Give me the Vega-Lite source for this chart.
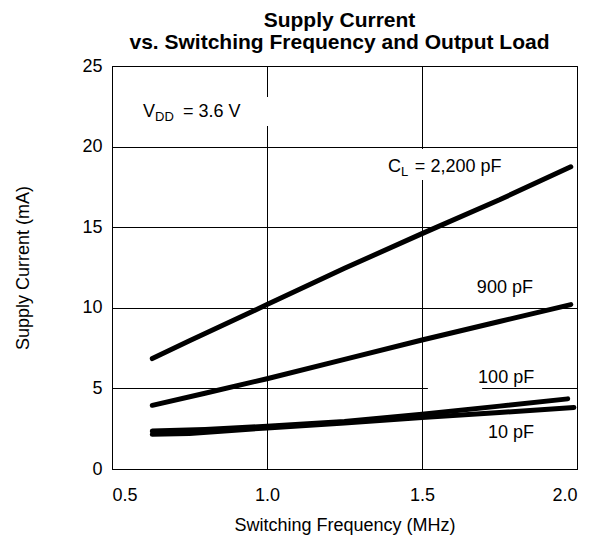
{
  "$schema": "https://vega.github.io/schema/vega-lite/v6.json",
  "autosize": {"type": "none"},
  "width": 465,
  "height": 403,
  "padding": {"left": 112, "top": 66, "right": 22, "bottom": 85},
  "config": {
    "font": "Liberation Sans",
    "view": {"stroke": "#000000", "strokeWidth": 1},
    "axis": {
      "labelFont": "Liberation Sans",
      "titleFont": "Liberation Sans",
      "labelFontSize": 18,
      "titleFontSize": 18,
      "titleFontWeight": "normal",
      "labelColor": "#000000",
      "titleColor": "#000000",
      "domainColor": "#000000",
      "gridColor": "#000000",
      "gridOpacity": 1,
      "gridWidth": 1,
      "ticks": false,
      "tickSize": 0
    }
  },
  "title": {
    "text": ["Supply Current", "vs. Switching Frequency and Output Load"],
    "font": "Liberation Sans",
    "fontSize": 21,
    "fontWeight": "bold",
    "lineHeight": 22,
    "anchor": "middle",
    "offset": 4,
    "dx": -5,
    "color": "#000000"
  },
  "layer": [
    {
      "data": {"values": [
        {"f": 0.57, "f2": 1.01, "I": 23.08, "I2": 21.28},
        {"f": 1.365, "f2": 1.784, "I": 19.85, "I2": 17.93},
        {"f": 1.519, "f2": 1.694, "I": 5.83, "I2": 4.28}
      ]},
      "mark": {"type": "rect", "fill": "#ffffff"},
      "encoding": {
        "x": {"field": "f", "type": "quantitative", "scale": {"domain": [0.5, 2.0], "nice": false, "zero": false},
              "axis": {"values": [0.5, 1.0, 1.5, 2.0], "format": ".1f", "title": "Switching Frequency (MHz)", "labelPadding": 17, "titlePadding": 12, "grid": true}},
        "x2": {"field": "f2"},
        "y": {"field": "I", "type": "quantitative", "scale": {"domain": [0, 25], "nice": false},
              "axis": {"values": [0, 5, 10, 15, 20, 25], "title": "Supply Current (mA)", "labelPadding": 10, "titlePadding": 49, "grid": true}},
        "y2": {"field": "I2"}
      }
    },
    {
      "data": {"values": [
        {"series": "2200 pF", "f": 0.63, "I": 6.85},
        {"series": "2200 pF", "f": 0.75, "I": 7.95},
        {"series": "2200 pF", "f": 1.0, "I": 10.2},
        {"series": "2200 pF", "f": 1.25, "I": 12.45},
        {"series": "2200 pF", "f": 1.5, "I": 14.6},
        {"series": "2200 pF", "f": 1.75, "I": 16.7},
        {"series": "2200 pF", "f": 1.98, "I": 18.75},
        {"series": "900 pF", "f": 0.63, "I": 3.95},
        {"series": "900 pF", "f": 0.8, "I": 4.7},
        {"series": "900 pF", "f": 1.0, "I": 5.6},
        {"series": "900 pF", "f": 1.25, "I": 6.8},
        {"series": "900 pF", "f": 1.5, "I": 8.0},
        {"series": "900 pF", "f": 1.75, "I": 9.15},
        {"series": "900 pF", "f": 1.98, "I": 10.2},
        {"series": "100 pF", "f": 0.63, "I": 2.35},
        {"series": "100 pF", "f": 0.8, "I": 2.45},
        {"series": "100 pF", "f": 1.0, "I": 2.65},
        {"series": "100 pF", "f": 1.25, "I": 2.95},
        {"series": "100 pF", "f": 1.5, "I": 3.4},
        {"series": "100 pF", "f": 1.75, "I": 3.9},
        {"series": "100 pF", "f": 1.97, "I": 4.35},
        {"series": "10 pF", "f": 0.63, "I": 2.15},
        {"series": "10 pF", "f": 0.75, "I": 2.2},
        {"series": "10 pF", "f": 1.0, "I": 2.55},
        {"series": "10 pF", "f": 1.25, "I": 2.85},
        {"series": "10 pF", "f": 1.5, "I": 3.2},
        {"series": "10 pF", "f": 1.75, "I": 3.5},
        {"series": "10 pF", "f": 1.99, "I": 3.82}
      ]},
      "mark": {"type": "line", "strokeWidth": 5, "strokeCap": "round", "strokeJoin": "round"},
      "encoding": {
        "x": {"field": "f", "type": "quantitative"},
        "y": {"field": "I", "type": "quantitative"},
        "detail": {"field": "series", "type": "nominal"},
        "color": {"value": "#000000"}
      }
    },
    {
      "data": {"values": [
        {"f": 0.6, "I": 21.84, "label": "V"},
        {"f": 0.729, "I": 21.84, "label": "= 3.6 V"},
        {"f": 1.39, "I": 18.42, "label": "C"},
        {"f": 1.477, "I": 18.42, "label": "= 2,200 pF"},
        {"f": 1.677, "I": 10.92, "label": "900 pF"},
        {"f": 1.681, "I": 5.33, "label": "100 pF"},
        {"f": 1.713, "I": 1.92, "label": "10 pF"}
      ]},
      "mark": {"type": "text", "align": "left", "baseline": "alphabetic", "fontSize": 18, "font": "Liberation Sans", "color": "#000000"},
      "encoding": {
        "x": {"field": "f", "type": "quantitative"},
        "y": {"field": "I", "type": "quantitative"},
        "text": {"field": "label", "type": "nominal"}
      }
    },
    {
      "data": {"values": [
        {"f": 0.639, "I": 21.59, "label": "DD"},
        {"f": 1.432, "I": 18.18, "label": "L"}
      ]},
      "mark": {"type": "text", "align": "left", "baseline": "alphabetic", "fontSize": 13, "font": "Liberation Sans", "color": "#000000"},
      "encoding": {
        "x": {"field": "f", "type": "quantitative"},
        "y": {"field": "I", "type": "quantitative"},
        "text": {"field": "label", "type": "nominal"}
      }
    }
  ]
}
